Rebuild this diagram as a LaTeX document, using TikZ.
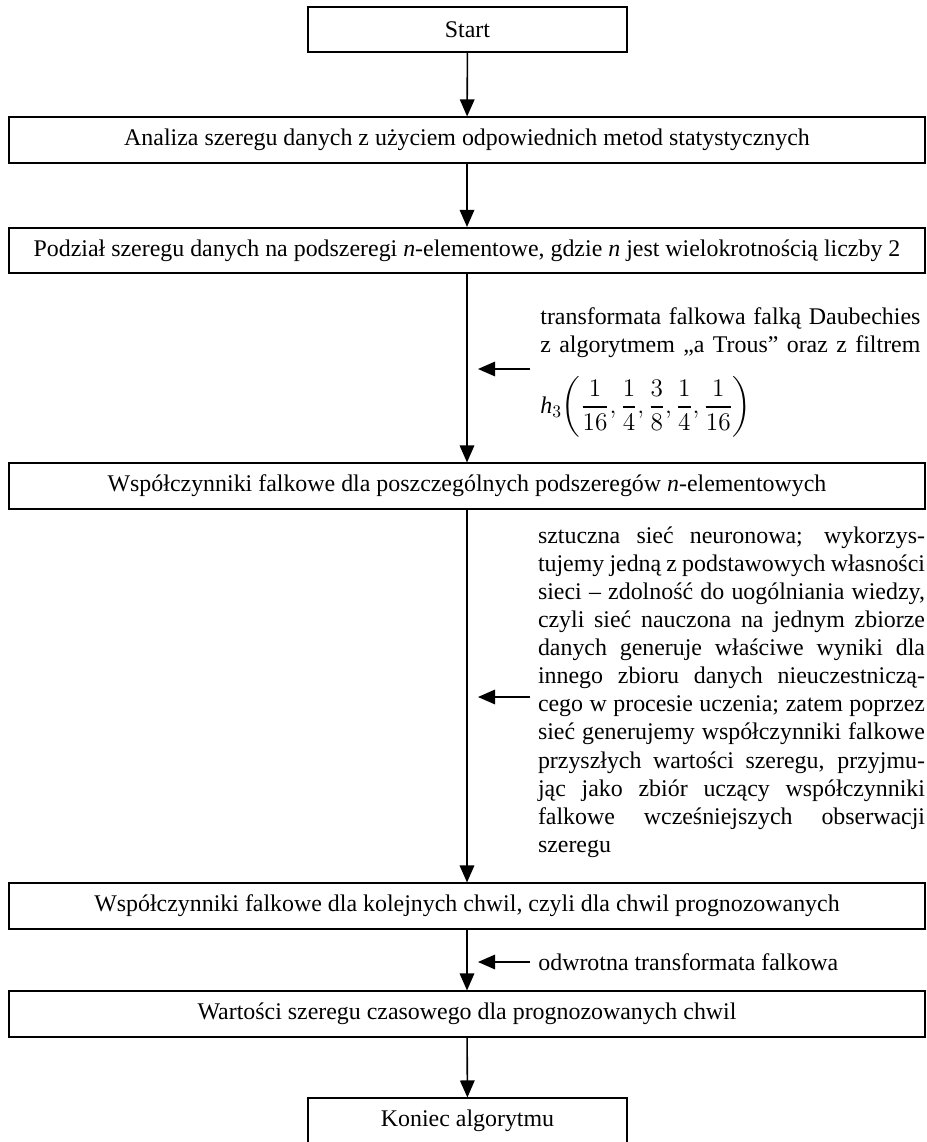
\documentclass[tikz,border=0pt]{standalone}
\usepackage{fontspec}
\setmainfont{Liberation Serif}
\usepackage{amsmath}
\usetikzlibrary{arrows.meta}
\newcommand{\sline}[2]{\makebox[#1][s]{#2}}

\begin{document}
\begin{tikzpicture}[x=0.2mm, y=-0.2mm,
  font=\fontsize{13.6}{16}\selectfont,
  blok/.style={draw, line width=0.9pt, inner sep=0pt, minimum height=0.91cm},
  wblok/.style={blok, minimum width=18.32cm},
  sblok/.style={blok, minimum width=6.38cm},
  arr/.style={line width=0.9pt, -{Triangle[length=3.4mm, width=2.9mm]}},
  opis/.style={inner sep=0pt, align=left}
]
  \useasboundingbox (0,0) rectangle (926,1142);

  \node[sblok] (start) at (467.5,29.5) {Start};
  \node[wblok] (analiza) at (467,140) {Analiza szeregu danych z użyciem odpowiednich metod statystycznych};
  \node[wblok] (podzial) at (467,250.5) {Podział szeregu danych na podszeregi \textit{n}-elementowe, gdzie \textit{n} jest wielokrotnością liczby 2};
  \node[wblok] (wspfal) at (467,486) {Współczynniki falkowe dla poszczególnych podszeregów \textit{n}-elementowych};
  \node[wblok] (wspprog) at (467,906) {Współczynniki falkowe dla kolejnych chwil, czyli dla chwil prognozowanych};
  \node[wblok] (wartosci) at (467,1014) {Wartości szeregu czasowego dla prognozowanych chwil};
  \node[sblok] (koniec) at (467.5,1121) {Koniec algorytmu};

  \node[opis, anchor=north west] (transf) at (540,307) {
    \sline{7.6cm}{transformata falkowa falką Daubechies}\\
    \sline{7.6cm}{z algorytmem „a Trous” oraz z filtrem}
  };
  \node[opis, anchor=west] (filtr) at (540,407)
    {$\textit{h}_3\!\left(\dfrac{1}{16},\dfrac{1}{4},\dfrac{3}{8},\dfrac{1}{4},\dfrac{1}{16}\right)$};
  \node[opis] (siec) at (731.5,692) {
    \sline{7.74cm}{sztuczna sieć neuronowa; wykorzys-}\\
    \sline{7.74cm}{tujemy jedną z podstawowych własności}\\
    \sline{7.74cm}{sieci – zdolność do uogólniania wiedzy,}\\
    \sline{7.74cm}{czyli sieć nauczona na jednym zbiorze}\\
    \sline{7.74cm}{danych generuje właściwe wyniki dla}\\
    \sline{7.74cm}{innego zbioru danych nieuczestniczą-}\\
    \sline{7.74cm}{cego w procesie uczenia; zatem poprzez}\\
    \sline{7.74cm}{sieć generujemy współczynniki falkowe}\\
    \sline{7.74cm}{przyszłych wartości szeregu, przyjmu-}\\
    \sline{7.74cm}{jąc jako zbiór uczący współczynniki}\\
    \sline{7.74cm}{falkowe wcześniejszych obserwacji}\\
    szeregu
  };
  \node[opis, anchor=west] (odwr) at (538,962) {odwrotna transformata falkowa};

  \coordinate (t1) at (530,369);
  \coordinate (h1) at (478,369);
  \coordinate (t2) at (530,697);
  \coordinate (h2) at (478,697);
  \coordinate (t3) at (530,962);
  \coordinate (h3) at (478,962);

  \draw[arr] (start) -- (analiza);
  \draw[arr] (analiza) -- (podzial);
  \draw[arr] (podzial) -- (wspfal);
  \draw[arr] (wspfal) -- (wspprog);
  \draw[arr] (wspprog) -- (wartosci);
  \draw[arr] (wartosci) -- (koniec);
  \draw[arr] (t1) -- (h1);
  \draw[arr] (t2) -- (h2);
  \draw[arr] (t3) -- (h3);
\end{tikzpicture}
\end{document}
